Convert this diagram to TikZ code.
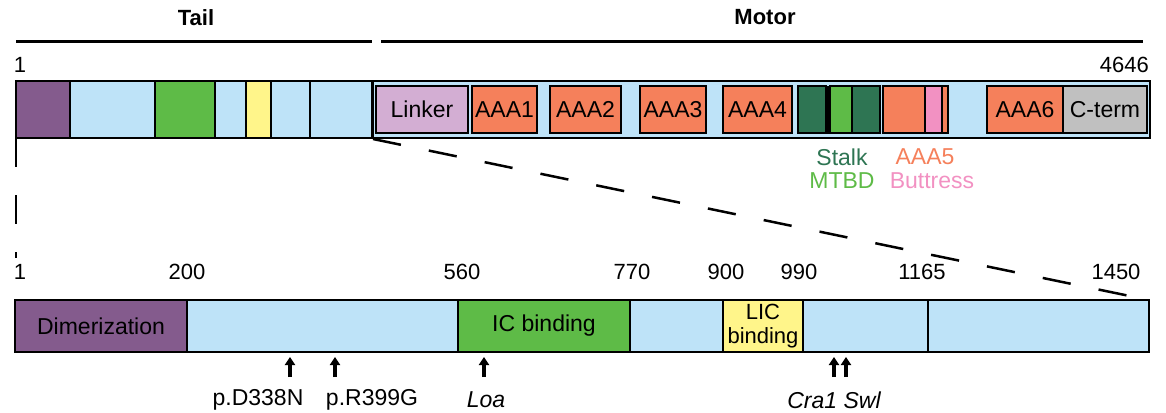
\documentclass[tikz,border=0pt]{standalone}
\usepackage{fontspec}
\setmainfont{Liberation Sans}
\usetikzlibrary{arrows.meta}
\definecolor{cpurple}{HTML}{845B8D}
\definecolor{cblue}{HTML}{BEE3F8}
\definecolor{cgreen}{HTML}{5EBB47}
\definecolor{cyellow}{HTML}{FFF58A}
\definecolor{clilac}{HTML}{D3AED3}
\definecolor{corange}{HTML}{F5805B}
\definecolor{cdkgreen}{HTML}{2E7553}
\definecolor{cpink}{HTML}{F291C2}
\definecolor{cgrey}{HTML}{C0C0C0}
\newcommand{\segbox}[7]{%
  \draw[segline, fill=#6] (#2,#3) rectangle (#4,#5);
  \node[segtext] (#1) at ({(#2+#4)/2},{(#3+#5)/2}) {#7};}
\tikzset{
  segline/.style={draw=black, line width=2pt},
  segtext/.style={inner sep=0pt, font=\fontsize{23}{26}\selectfont},
  numlbl/.style={inner sep=0pt, font=\fontsize{22}{24}\selectfont},
  boldlbl/.style={inner sep=0pt, font=\fontsize{22}{24}\selectfont\bfseries},
  rangeline/.style={line width=3pt},
  zoomline/.style={line width=2.5pt, dash pattern=on 28.5pt off 28.5pt},
  mutarrow/.style={line width=3.6pt, -{Triangle[width=10pt,length=8pt]}},
}
\begin{document}
\begin{tikzpicture}[x=1pt,y=-1pt]
\useasboundingbox (0,0) rectangle (1166,412);
% headers
\node[boldlbl] (tail) at (196,18) {Tail};
\node[boldlbl] (motor) at (765,17) {Motor};
\coordinate (tl1) at (16,42); \coordinate (tl2) at (372,42);
\coordinate (ml1) at (381,42); \coordinate (ml2) at (1143,42);
\draw[rangeline] (tl1) -- (tl2);
\draw[rangeline] (ml1) -- (ml2);
\node[numlbl] (n1top) at (20,65) {1};
\node[numlbl, anchor=east] (n4646) at (1149,65) {4646};
% top bar - tail
\segbox{t1}{16}{81}{70}{138}{cpurple}{}
\segbox{t2}{70}{81}{155}{138}{cblue}{}
\segbox{t3}{155}{81}{215}{138}{cgreen}{}
\segbox{t4}{215}{81}{246}{138}{cblue}{}
\segbox{t5}{246}{81}{271}{138}{cyellow}{}
\segbox{t6}{271}{81}{310}{138}{cblue}{}
\segbox{t7}{310}{81}{372}{138}{cblue}{}
% motor
\segbox{mot}{373}{81}{1150}{138}{cblue}{}
\segbox{linker}{376}{86}{468}{133}{clilac}{Linker}
\segbox{aaa1}{472}{86}{537}{133}{corange}{AAA1}
\segbox{aaa2}{550}{86}{621}{133}{corange}{AAA2}
\segbox{aaa3}{640}{86}{706}{133}{corange}{AAA3}
\segbox{aaa4}{723}{86}{792}{133}{corange}{AAA4}
\segbox{st1}{798}{86}{826}{133}{cdkgreen}{}
\draw[fill=black, draw=black] (826,86) rectangle (830,133);
\segbox{mtbd}{830}{86}{852}{133}{cgreen}{}
\segbox{st2}{852}{86}{880}{133}{cdkgreen}{}
\segbox{aaa5}{883}{86}{925}{133}{corange}{}
\segbox{butt}{925}{86}{942}{133}{cpink}{}
\segbox{aaa5b}{942}{86}{948}{133}{corange}{}
\segbox{aaa6}{987}{86}{1063}{133}{corange}{AAA6}
\segbox{cterm}{1063}{86}{1147}{133}{cgrey}{C-term}
% legend labels
\node[segtext, text=cdkgreen] (lstalk) at (842,157) {Stalk};
\node[segtext, text=cgreen] (lmtbd) at (842,181) {MTBD};
\node[segtext, text=corange] (laaa5) at (925,157) {AAA5};
\node[segtext, text=cpink] (lbutt) at (932,181) {Buttress};
% zoom lines
\coordinate (zv1) at (16,138); \coordinate (zv2) at (16,258);
\coordinate (zd1) at (373,139); \coordinate (zd2) at (1149,300);
\draw[zoomline] (zv1) -- (zv2);
\draw[zoomline] (zd1) -- (zd2);
% bottom numbers
\node[numlbl] (b1) at (20,272) {1};
\node[numlbl] (b200) at (187,272) {200};
\node[numlbl] (b560) at (462,272) {560};
\node[numlbl] (b770) at (632,272) {770};
\node[numlbl] (b900) at (726,272) {900};
\node[numlbl] (b990) at (799,272) {990};
\node[numlbl] (b1165) at (922,272) {1165};
\node[numlbl] (b1450) at (1116,272) {1450};
% bottom bar
\segbox{dimer}{15}{300}{187}{352}{cpurple}{Dimerization}
\segbox{bb1}{187}{300}{458}{352}{cblue}{}
\segbox{icb}{458}{300}{630}{352}{cgreen}{IC binding}
\segbox{bb2}{630}{300}{723}{352}{cblue}{}
\segbox{licb}{723}{300}{803}{352}{cyellow}{}
\node[segtext, align=center, font=\fontsize{22}{24}\selectfont] (lictext) at (763,326) {LIC\\binding};
\segbox{bb3}{803}{300}{928}{352}{cblue}{}
\segbox{bb4}{928}{300}{1149}{352}{cblue}{}
% mutation arrows
\foreach \nm/\xx in {a1/290, a2/335, a3/484, a4/834, a5/846}{
  \coordinate (\nm s) at (\xx,377);
  \coordinate (\nm e) at (\xx,357);
  \draw[mutarrow] (\nm s) -- (\nm e);
}
\node[segtext] (m1) at (258,400) {p.D338N};
\node[segtext] (m2) at (372,400) {p.R399G};
\node[segtext] (m3) at (486,400) {\itshape Loa};
\node[segtext] (m4) at (834,400) {\itshape Cra1 Swl};
\end{tikzpicture}
\end{document}
